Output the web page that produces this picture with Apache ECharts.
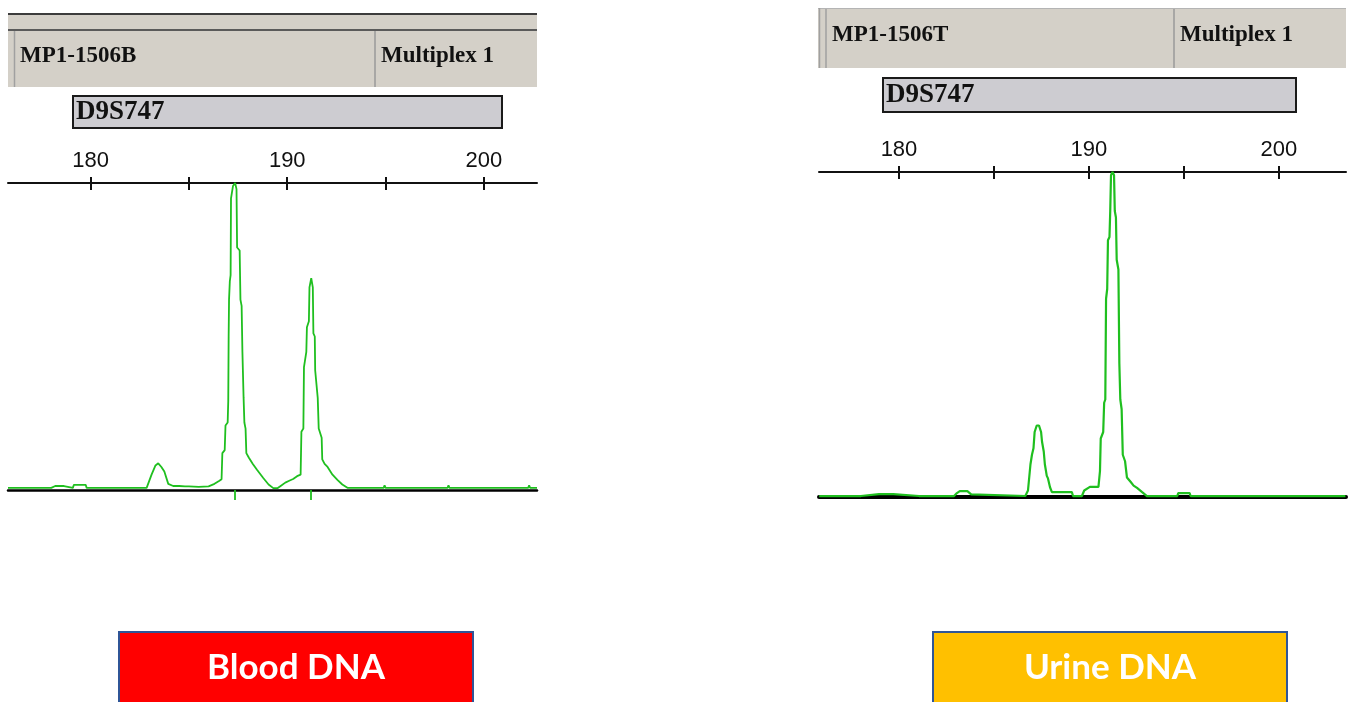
<!DOCTYPE html>
<html>
<head>
<meta charset="utf-8">
<script src="https://cdn.jsdelivr.net/npm/echarts@6/dist/echarts.min.js"></script>
<style>
html,body{margin:0;padding:0;background:#fff;}
#chart{width:1350px;height:702px;}
</style>
</head>
<body>
<div id="chart"></div>
<script>
// ---- data (fragment size in bp, relative fluorescence 0..1) ----
const majorTicks = [180, 185, 190, 195, 200];
const tickLabels = [180, 190, 200];
const bloodAlleleCalls = [187.35, 191.22];
const bloodTrace = [
  [175.8,0.007],[177.15,0.007],[177.2,0.013],[177.25,0.007],[177.8,0.007],[177.85,0.013],[178.0,0.007],[178.2,0.013],[178.3,0.007],[178.65,0.013],[178.7,0.007],
  [179.1,0.007],[179.15,0.017],[179.75,0.017],[179.8,0.007],[181.0,0.007],[181.05,0.013],[181.1,0.007],[181.6,0.007],[181.65,0.013],[181.7,0.007],
  [182.85,0.007],[183.1,0.05],[183.3,0.08],[183.44,0.087],[183.6,0.075],[183.75,0.06],[183.95,0.02],[184.2,0.013],[184.5,0.013],[184.55,0.018],[184.6,0.012],
  [184.8,0.012],[184.85,0.018],[184.9,0.012],[185.0,0.012],[185.05,0.018],[185.1,0.01],[185.5,0.01],[186.0,0.012],[186.3,0.02],[186.55,0.03],[186.66,0.035],
  [186.7,0.12],[186.82,0.13],[186.86,0.21],[186.97,0.22],[187.0,0.29],[187.02,0.5],[187.04,0.62],[187.08,0.68],[187.12,0.7],[187.14,0.95],[187.24,0.99],
  [187.35,1.0],[187.42,0.98],[187.45,0.79],[187.58,0.78],[187.62,0.62],[187.68,0.6],[187.72,0.45],[187.78,0.3],[187.82,0.22],[187.88,0.2],[187.92,0.12],
  [188.05,0.105],[188.25,0.085],[188.47,0.065],[188.78,0.039],[189.05,0.018],[189.29,0.006],[189.5,0.006],[189.7,0.015],[189.9,0.024],[190.1,0.03],
  [190.3,0.036],[190.5,0.045],[190.68,0.05],[190.72,0.19],[190.82,0.2],[190.85,0.4],[190.97,0.45],[191.0,0.53],[191.1,0.55],[191.13,0.66],[191.22,0.69],
  [191.3,0.66],[191.33,0.51],[191.4,0.5],[191.42,0.39],[191.55,0.3],[191.6,0.2],[191.75,0.17],[191.78,0.1],[191.9,0.085],[192.05,0.075],[192.3,0.05],
  [192.55,0.033],[192.8,0.018],[193.06,0.007],[193.65,0.007],[193.7,0.013],[193.75,0.007],[194.9,0.007],[194.95,0.015],[195.0,0.007],[198.15,0.007],
  [198.2,0.015],[198.25,0.007],[199.25,0.007],[199.3,0.013],[199.35,0.007],[200.95,0.007],[201.0,0.013],[201.05,0.007],[202.25,0.007],[202.3,0.015],
  [202.35,0.007],[202.7,0.007]
];
const urineTrace = [
  [175.8,0.003],[177.1,0.003],[177.15,0.008],[177.2,0.003],[178.0,0.003],[178.05,0.009],[178.95,0.009],[179.0,0.003],[179.1,0.009],[179.7,0.009],[179.75,0.003],
  [181.05,0.003],[181.1,0.009],[181.15,0.003],[182.9,0.003],[183.05,0.012],[183.2,0.018],[183.6,0.018],[183.8,0.008],[183.9,0.003],[186.65,0.003],
  [186.79,0.02],[186.92,0.1],[187.0,0.13],[187.08,0.15],[187.14,0.2],[187.25,0.22],[187.37,0.22],[187.48,0.2],[187.53,0.17],[187.62,0.14],[187.68,0.1],
  [187.78,0.065],[187.84,0.058],[187.95,0.03],[188.05,0.015],[189.1,0.015],[189.16,0.003],[189.63,0.003],[189.75,0.02],[189.85,0.025],[190.05,0.031],
  [190.5,0.031],[190.58,0.08],[190.62,0.18],[190.75,0.2],[190.8,0.29],[190.86,0.3],[190.9,0.61],[190.96,0.64],[191.0,0.79],[191.08,0.8],[191.12,0.88],
  [191.16,0.99],[191.24,1.0],[191.32,0.99],[191.36,0.88],[191.42,0.86],[191.46,0.73],[191.55,0.7],[191.6,0.41],[191.65,0.3],[191.72,0.27],[191.78,0.13],
  [191.9,0.11],[192.0,0.06],[192.2,0.046],[192.35,0.035],[192.53,0.028],[192.8,0.015],[193.05,0.003],[194.65,0.003],[194.7,0.012],[195.3,0.012],
  [195.35,0.003],[203.5,0.003]
];
const panelTitles = ['MP1-1506B', 'MP1-1506T'];
const panelKit = 'Multiplex 1';
const markerName = 'D9S747';
const sampleLabels = ['Blood DNA', 'Urine DNA'];

// ---- chart ----
const chart = echarts.init(document.getElementById('chart'), null, {renderer: 'canvas'});
const GREEN = '#1fbf1f';

function topAxis(grid, min, max) {
  return {
    type: 'value', gridIndex: grid, position: 'top', min: min, max: max,
    axisLine: {show: true, onZero: false, lineStyle: {color: '#111', width: 2}},
    axisTick: {show: true, inside: true, length: 7, customValues: majorTicks, lineStyle: {color: '#111', width: 2}},
    axisLabel: {show: true, customValues: tickLabels, margin: 11, fontSize: 22, color: '#111', fontFamily: 'Liberation Sans'},
    splitLine: {show: false}
  };
}
function helperAxis(grid, min, max) {
  return {
    type: 'value', gridIndex: grid, position: 'top', min: min, max: max,
    axisLine: {show: false, onZero: false},
    axisTick: {show: true, inside: true, length: 6, customValues: majorTicks, lineStyle: {color: '#111', width: 2}},
    axisLabel: {show: false}, splitLine: {show: false}
  };
}
function baseAxis(grid, min, max, width, calls) {
  return {
    type: 'value', gridIndex: grid, position: 'bottom', min: min, max: max,
    axisLine: {show: true, onZero: false, lineStyle: {color: '#000', width: width}},
    axisTick: calls ? {show: true, length: 10, customValues: calls, lineStyle: {color: GREEN, width: 1.8}} : {show: false},
    axisLabel: {show: false}, splitLine: {show: false}
  };
}
function yAx(grid) {
  return {type: 'value', gridIndex: grid, min: 0, max: 1, show: false};
}

const option = {
  backgroundColor: '#ffffff',
  animation: false,
  grid: [
    {left: 8, top: 183, width: 529, height: 307},
    {left: 8, top: 177, width: 529, height: 6},
    {left: 819, top: 172, width: 527, height: 325},
    {left: 819, top: 166, width: 527, height: 6}
  ],
  xAxis: [
    topAxis(0, 175.8, 202.7),
    helperAxis(1, 175.8, 202.7),
    baseAxis(0, 175.8, 202.7, 2.5, bloodAlleleCalls),
    topAxis(2, 175.79, 203.53),
    helperAxis(3, 175.79, 203.53),
    baseAxis(2, 175.79, 203.53, 4, null)
  ],
  yAxis: [yAx(0), yAx(1), yAx(2), yAx(3)],
  series: [
    {type: 'line', xAxisIndex: 0, yAxisIndex: 0, data: bloodTrace, symbol: 'none', clip: false, z: 5,
     lineStyle: {color: GREEN, width: 1.8}},
    {type: 'line', xAxisIndex: 3, yAxisIndex: 2, data: urineTrace, symbol: 'none', clip: false, z: 5,
     lineStyle: {color: GREEN, width: 2.2}}
  ],
  graphic: [
    // left header
    {type: 'rect', shape: {x: 8, y: 13, width: 529, height: 74}, style: {fill: '#d4d0c8'}, z: 1},
    {type: 'line', shape: {x1: 8, y1: 14, x2: 537, y2: 14}, style: {stroke: '#3c3c3c', lineWidth: 2}, z: 2},
    {type: 'line', shape: {x1: 8, y1: 30, x2: 537, y2: 30}, style: {stroke: '#5a5a5a', lineWidth: 2}, z: 2},
    {type: 'line', shape: {x1: 14.5, y1: 31, x2: 14.5, y2: 87}, style: {stroke: '#a0a0a0', lineWidth: 1.5}, z: 2},
    {type: 'line', shape: {x1: 375, y1: 31, x2: 375, y2: 87}, style: {stroke: '#9a9a9a', lineWidth: 1.5}, z: 2},
    {type: 'text', x: 20, y: 56, style: {text: panelTitles[0], font: 'bold 23px "Liberation Serif"', fill: '#111', verticalAlign: 'middle'}, z: 3},
    {type: 'text', x: 381, y: 56, style: {text: panelKit, font: 'bold 23px "Liberation Serif"', fill: '#111', verticalAlign: 'middle'}, z: 3},
    {type: 'rect', shape: {x: 73, y: 96, width: 429, height: 32}, style: {fill: '#cdccd1', stroke: '#1a1a1a', lineWidth: 2}, z: 1},
    {type: 'text', x: 76, y: 112, style: {text: markerName, font: 'bold 27px "Liberation Serif"', fill: '#111', verticalAlign: 'middle'}, z: 3},
    // right header
    {type: 'rect', shape: {x: 818, y: 8, width: 528, height: 60}, style: {fill: '#d4d0c8'}, z: 1},
    {type: 'line', shape: {x1: 818, y1: 8.5, x2: 1346, y2: 8.5}, style: {stroke: '#b4b4b4', lineWidth: 1}, z: 2},
    {type: 'line', shape: {x1: 819.5, y1: 8, x2: 819.5, y2: 68}, style: {stroke: '#a0a0a0', lineWidth: 1.5}, z: 2},
    {type: 'line', shape: {x1: 826, y1: 9, x2: 826, y2: 68}, style: {stroke: '#a0a0a0', lineWidth: 1.5}, z: 2},
    {type: 'line', shape: {x1: 1174, y1: 9, x2: 1174, y2: 68}, style: {stroke: '#9a9a9a', lineWidth: 1.5}, z: 2},
    {type: 'text', x: 832, y: 35, style: {text: panelTitles[1], font: 'bold 23px "Liberation Serif"', fill: '#111', verticalAlign: 'middle'}, z: 3},
    {type: 'text', x: 1180, y: 35, style: {text: panelKit, font: 'bold 23px "Liberation Serif"', fill: '#111', verticalAlign: 'middle'}, z: 3},
    {type: 'rect', shape: {x: 883, y: 78, width: 413, height: 34}, style: {fill: '#cdccd1', stroke: '#1a1a1a', lineWidth: 2}, z: 1},
    {type: 'text', x: 886, y: 95, style: {text: markerName, font: 'bold 27px "Liberation Serif"', fill: '#111', verticalAlign: 'middle'}, z: 3},
    // sample labels
    {type: 'rect', shape: {x: 119, y: 632, width: 354, height: 80}, style: {fill: '#ff0000', stroke: '#2f5597', lineWidth: 2}, z: 1},
    {type: 'text', x: 296, y: 668, style: {text: sampleLabels[0], font: 'bold 35px Lato', fill: '#ffffff', align: 'center', verticalAlign: 'middle'}, z: 3},
    {type: 'rect', shape: {x: 933, y: 632, width: 354, height: 80}, style: {fill: '#ffc000', stroke: '#2f5597', lineWidth: 2}, z: 1},
    {type: 'text', x: 1110, y: 668, style: {text: sampleLabels[1], font: 'bold 35px Lato', fill: '#ffffff', align: 'center', verticalAlign: 'middle'}, z: 3}
  ]
};
chart.setOption(option);
</script>
</body>
</html>
